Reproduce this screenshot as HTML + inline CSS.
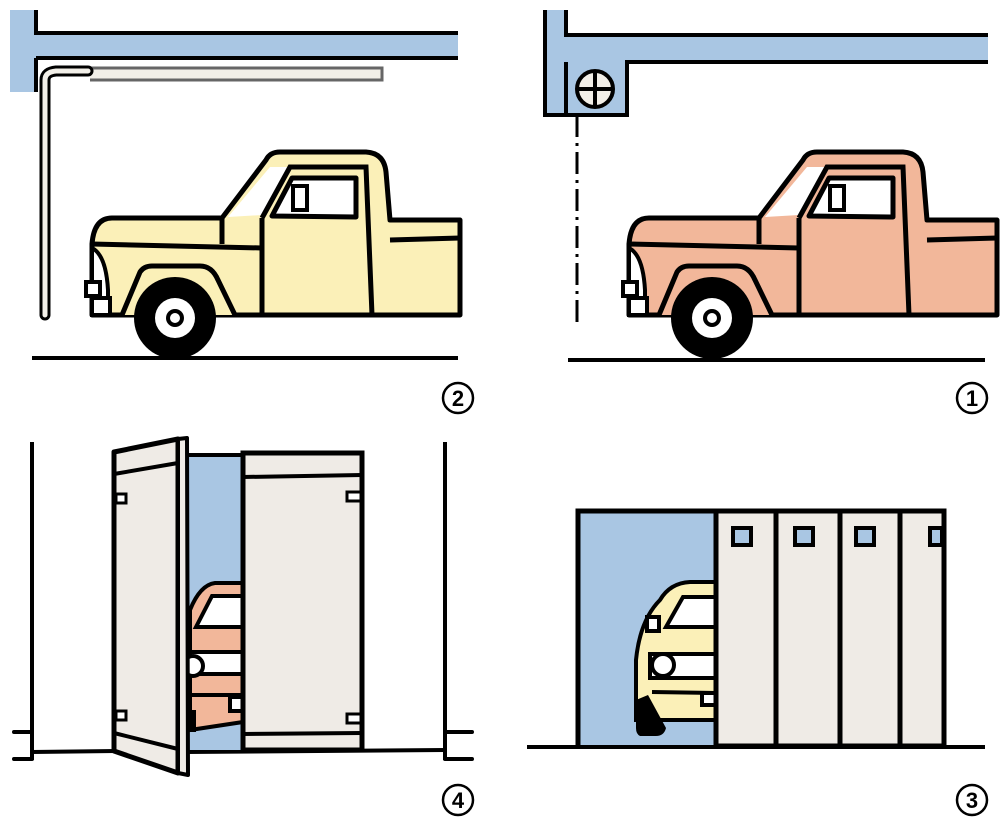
<!DOCTYPE html>
<html><head><meta charset="utf-8"><style>
html,body{margin:0;padding:0;background:#fff;}
svg{display:block;}
text{font-family:"Liberation Sans",sans-serif;font-weight:bold;}
</style></head><body>
<svg width="1000" height="820" viewBox="0 0 1000 820" xmlns="http://www.w3.org/2000/svg">
<defs>
<g id="truck">
  <path d="M92,315 L92,244 Q94,218 112,218 L222,218 L266,160 Q270,152 280,152 L366,152 Q384,153 386,172 L390,220 L460,220 L460,315 Z" fill="FILL" stroke="#000" stroke-width="5" stroke-linejoin="round"/>
  <path d="M228,217 L270,167 L288,167 L262,215 Z" fill="#fff"/>
  <path d="M262,218 L290,167 L366,167 L372,315" fill="none" stroke="#000" stroke-width="5"/>
  <line x1="262" y1="218" x2="262" y2="315" stroke="#000" stroke-width="5"/>
  <path d="M272,216 L292,178 L356,178 L356,217 Z" fill="#fff" stroke="#000" stroke-width="5" stroke-linejoin="round"/>
  <rect x="293" y="186" width="14" height="24" fill="#fff" stroke="#000" stroke-width="4"/>
  <line x1="280" y1="207" x2="294" y2="200" stroke="#000" stroke-width="3"/>
  <line x1="222" y1="218" x2="222" y2="244" stroke="#000" stroke-width="5"/>
  <path d="M92,244 L262,248" fill="none" stroke="#000" stroke-width="5"/>
  <line x1="390" y1="240" x2="460" y2="238" stroke="#000" stroke-width="5"/>
  <path d="M92,248 Q106,255 108,290 L108,315 L92,315 Z" fill="#fff" stroke="#000" stroke-width="4"/>
  <rect x="86" y="282" width="14" height="14" fill="#fff" stroke="#000" stroke-width="4"/>
  <rect x="92" y="298" width="18" height="17" fill="#fff" stroke="#000" stroke-width="4"/>
  <path d="M122,315 L140,272 Q144,266 152,266 L200,266 Q212,266 218,280 L235,315" fill="FILL" stroke="#000" stroke-width="5"/>
  <circle cx="175" cy="318" r="41" fill="#000"/>
  <circle cx="175" cy="318" r="20" fill="#fff"/>
  <circle cx="175" cy="318" r="9" fill="#000"/>
  <circle cx="175" cy="318" r="5" fill="#fff"/>
</g>
</defs>

<!-- Panel 2 (top-left) -->
<path d="M10,10 L36,10 L36,33 L458,33 L458,58 L36,58 L36,92 L10,92 Z" fill="#a9c6e3"/>
<path d="M36,10 L36,33 L458,33 M36,58 L458,58 M36,58 L36,92" fill="none" stroke="#000" stroke-width="4"/>
<path d="M90,68 L382,68 L382,80 L90,80" fill="#f2efe8" stroke="#666" stroke-width="3"/>
<path d="M45,315 L45,80 Q45,72 56,71 L88,71" fill="none" stroke="#000" stroke-width="11" stroke-linecap="round"/>
<path d="M45,315 L45,80 Q45,72 56,71 L88,71" fill="none" stroke="#f2efe8" stroke-width="5" stroke-linecap="round"/>
<g>
  <path d="M92,315 L92,244 Q94,218 112,218 L222,218 L266,160 Q270,152 280,152 L366,152 Q384,153 386,172 L390,220 L460,220 L460,315 Z" fill="#fbf0b8" stroke="#000" stroke-width="5" stroke-linejoin="round"/>
  <path d="M228,217 L270,167 L288,167 L262,215 Z" fill="#fff"/>
  <path d="M262,218 L290,167 L366,167 L372,315" fill="none" stroke="#000" stroke-width="5"/>
  <line x1="262" y1="218" x2="262" y2="315" stroke="#000" stroke-width="5"/>
  <path d="M272,216 L292,178 L356,178 L356,217 Z" fill="#fff" stroke="#000" stroke-width="5" stroke-linejoin="round"/>
  <rect x="293" y="186" width="14" height="24" fill="#fff" stroke="#000" stroke-width="4"/>
  <line x1="222" y1="218" x2="222" y2="244" stroke="#000" stroke-width="5"/>
  <path d="M92,244 L262,248" fill="none" stroke="#000" stroke-width="5"/>
  <line x1="390" y1="240" x2="460" y2="238" stroke="#000" stroke-width="5"/>
  <path d="M92,248 Q106,255 108,290 L108,315 L92,315 Z" fill="#fff" stroke="#000" stroke-width="4"/>
  <rect x="86" y="282" width="14" height="14" fill="#fff" stroke="#000" stroke-width="4"/>
  <rect x="92" y="298" width="18" height="17" fill="#fff" stroke="#000" stroke-width="4"/>
  <path d="M122,315 L140,272 Q144,266 152,266 L200,266 Q212,266 218,280 L235,315" fill="#fbf0b8" stroke="#000" stroke-width="5"/>
  <circle cx="175" cy="318" r="41" fill="#000"/>
  <circle cx="175" cy="318" r="20" fill="#fff"/>
  <circle cx="175" cy="318" r="9" fill="#000"/>
  <circle cx="175" cy="318" r="5" fill="#fff"/>
</g>
<line x1="32" y1="358" x2="458" y2="358" stroke="#000" stroke-width="4"/>

<!-- Panel 1 (top-right) -->
<path d="M545,10 L566,10 L566,35 L988,35 L988,62 L627,62 L627,115 L545,115 Z" fill="#a9c6e3"/>
<path d="M545,10 L545,115 L627,115 L627,62 L988,62 M566,10 L566,35 L988,35 M566,62 L566,115" fill="none" stroke="#000" stroke-width="4"/>
<circle cx="595" cy="89" r="18" fill="#f2efe8" stroke="#000" stroke-width="4"/>
<path d="M577,89 L613,89 M595,71 L595,107" stroke="#000" stroke-width="4"/>
<line x1="577" y1="115" x2="577" y2="322" stroke="#000" stroke-width="3" stroke-dasharray="22,6,3,6"/>
<g transform="translate(537,0)">
  <path d="M92,315 L92,244 Q94,218 112,218 L222,218 L266,160 Q270,152 280,152 L366,152 Q384,153 386,172 L390,220 L460,220 L460,315 Z" fill="#f2b79a" stroke="#000" stroke-width="5" stroke-linejoin="round"/>
  <path d="M228,217 L270,167 L288,167 L262,215 Z" fill="#fff"/>
  <path d="M262,218 L290,167 L366,167 L372,315" fill="none" stroke="#000" stroke-width="5"/>
  <line x1="262" y1="218" x2="262" y2="315" stroke="#000" stroke-width="5"/>
  <path d="M272,216 L292,178 L356,178 L356,217 Z" fill="#fff" stroke="#000" stroke-width="5" stroke-linejoin="round"/>
  <rect x="293" y="186" width="14" height="24" fill="#fff" stroke="#000" stroke-width="4"/>
  <line x1="222" y1="218" x2="222" y2="244" stroke="#000" stroke-width="5"/>
  <path d="M92,244 L262,248" fill="none" stroke="#000" stroke-width="5"/>
  <line x1="390" y1="240" x2="460" y2="238" stroke="#000" stroke-width="5"/>
  <path d="M92,248 Q106,255 108,290 L108,315 L92,315 Z" fill="#fff" stroke="#000" stroke-width="4"/>
  <rect x="86" y="282" width="14" height="14" fill="#fff" stroke="#000" stroke-width="4"/>
  <rect x="92" y="298" width="18" height="17" fill="#fff" stroke="#000" stroke-width="4"/>
  <path d="M122,315 L140,272 Q144,266 152,266 L200,266 Q212,266 218,280 L235,315" fill="#f2b79a" stroke="#000" stroke-width="5"/>
  <circle cx="175" cy="318" r="41" fill="#000"/>
  <circle cx="175" cy="318" r="20" fill="#fff"/>
  <circle cx="175" cy="318" r="9" fill="#000"/>
  <circle cx="175" cy="318" r="5" fill="#fff"/>
</g>
<line x1="568" y1="360" x2="985" y2="360" stroke="#000" stroke-width="4"/>

<!-- Panel 4 (bottom-left) -->
<line x1="32" y1="442" x2="32" y2="760" stroke="#000" stroke-width="4"/>
<line x1="445" y1="442" x2="445" y2="760" stroke="#000" stroke-width="4"/>
<path d="M14,732 L32,732 M14,759 L32,759 M445,732 L472,732 M445,759 L472,759" stroke="#000" stroke-width="4" stroke-linecap="round"/>
<line x1="32" y1="752" x2="116" y2="751" stroke="#000" stroke-width="4"/>
<line x1="186" y1="752" x2="445" y2="750" stroke="#000" stroke-width="4"/>
<rect x="187" y="455" width="56" height="295" fill="#a9c6e3"/>
<line x1="187" y1="455" x2="243" y2="455" stroke="#000" stroke-width="4"/>
<!-- car in gap -->
<path d="M190,730 L190,610 Q200,585 215,583 L243,583 L243,722 Z" fill="#f2b79a" stroke="#000" stroke-width="4"/>
<path d="M196,627 L212,596 L243,596 L243,627 Z" fill="#fff" stroke="#000" stroke-width="4"/>
<rect x="190" y="652" width="53" height="22" fill="#fff" stroke="#000" stroke-width="4"/>
<circle cx="193" cy="666" r="10" fill="#fff" stroke="#000" stroke-width="4"/>
<line x1="190" y1="695" x2="243" y2="695" stroke="#000" stroke-width="4"/>
<rect x="230" y="697" width="13" height="14" fill="#fff" stroke="#000" stroke-width="4"/>
<rect x="186" y="710" width="10" height="22" fill="#000"/>
<!-- right door -->
<rect x="243" y="453" width="119" height="297" fill="#efebe6" stroke="#000" stroke-width="5"/>
<line x1="243" y1="477" x2="362" y2="475" stroke="#000" stroke-width="4"/>
<line x1="243" y1="734" x2="362" y2="733" stroke="#000" stroke-width="4"/>
<rect x="347" y="492" width="14" height="9" fill="#fff" stroke="#000" stroke-width="3"/>
<rect x="347" y="714" width="14" height="9" fill="#fff" stroke="#000" stroke-width="3"/>
<!-- open door -->
<path d="M114,452 L178,439 L178,773 L114,751 Z" fill="#efebe6" stroke="#000" stroke-width="5" stroke-linejoin="round"/>
<path d="M178,439 L187,438 L188,775 L178,773 Z" fill="#efebe6" stroke="#000" stroke-width="4" stroke-linejoin="round"/>
<line x1="114" y1="474" x2="178" y2="463" stroke="#000" stroke-width="4"/>
<line x1="114" y1="733" x2="178" y2="749" stroke="#000" stroke-width="4"/>
<rect x="116" y="494" width="10" height="9" fill="#fff" stroke="#000" stroke-width="3"/>
<rect x="116" y="711" width="10" height="9" fill="#fff" stroke="#000" stroke-width="3"/>

<!-- Panel 3 (bottom-right) -->
<rect x="576" y="511" width="140" height="235" fill="#a9c6e3"/>
<path d="M578,746 L578,511 L944,511" fill="none" stroke="#000" stroke-width="5"/>
<!-- yellow car -->
<path d="M636,720 L636,660 Q640,620 660,600 Q670,583 690,582 L716,582 L716,720 Z" fill="#fbf0b8" stroke="#000" stroke-width="4"/>
<path d="M666,627 L683,597 L716,597 L716,627 Z" fill="#fff" stroke="#000" stroke-width="4"/>
<rect x="647" y="617" width="12" height="14" fill="#fff" stroke="#000" stroke-width="4"/>
<rect x="650" y="654" width="66" height="24" fill="#fff" stroke="#000" stroke-width="4"/>
<circle cx="663" cy="665" r="11" fill="#fff" stroke="#000" stroke-width="4"/>
<line x1="652" y1="692" x2="716" y2="693" stroke="#000" stroke-width="4"/>
<rect x="702" y="693" width="14" height="12" fill="#fff" stroke="#000" stroke-width="4"/>
<path d="M636,700 L648,695 L666,728 Q664,736 656,736 L640,736 Q636,734 636,728 Z" fill="#000"/>
<!-- panels -->
<rect x="716" y="511" width="60" height="235" fill="#efebe6" stroke="#000" stroke-width="5"/>
<rect x="776" y="511" width="64" height="235" fill="#efebe6" stroke="#000" stroke-width="5"/>
<rect x="840" y="511" width="60" height="235" fill="#efebe6" stroke="#000" stroke-width="5"/>
<rect x="900" y="511" width="44" height="235" fill="#efebe6" stroke="#000" stroke-width="5"/>
<rect x="733" y="528" width="18" height="17" fill="#a9c6e3" stroke="#000" stroke-width="4"/>
<rect x="795" y="528" width="18" height="17" fill="#a9c6e3" stroke="#000" stroke-width="4"/>
<rect x="856" y="528" width="18" height="17" fill="#a9c6e3" stroke="#000" stroke-width="4"/>
<rect x="930" y="528" width="12" height="17" fill="#a9c6e3" stroke="#000" stroke-width="4"/>
<line x1="527" y1="747" x2="985" y2="747" stroke="#000" stroke-width="4"/>

<!-- Labels -->
<g fill="none" stroke="#000" stroke-width="2.5">
  <circle cx="458" cy="398" r="15"/>
  <circle cx="972" cy="398" r="15"/>
  <circle cx="458" cy="800" r="15"/>
  <circle cx="972" cy="800" r="15"/>
</g>
<g font-size="22" text-anchor="middle" fill="#000">
  <text x="458" y="406">2</text>
  <text x="972" y="406">1</text>
  <text x="458" y="808">4</text>
  <text x="972" y="808">3</text>
</g>
</svg>
</body></html>
